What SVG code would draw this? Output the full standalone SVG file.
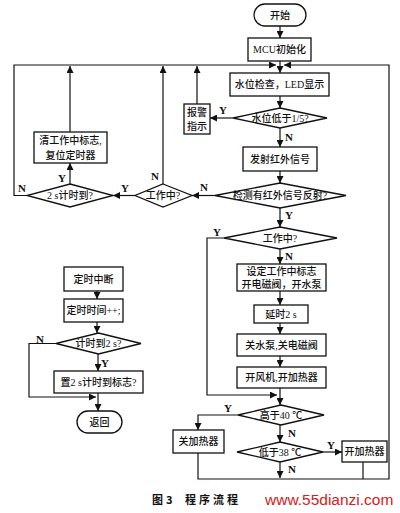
<svg xmlns="http://www.w3.org/2000/svg" width="400" height="513" viewBox="0 0 400 513">
<style>
.b{fill:#fff;stroke:#111;stroke-width:1.3}
.t{font-family:"Liberation Serif","Noto Sans CJK SC",serif;font-size:10px;font-weight:500;fill:#111;text-anchor:middle;dominant-baseline:central}
.l{font-family:"Liberation Serif","Noto Sans CJK SC",serif;font-size:11px;font-weight:bold;fill:#111;text-anchor:middle;dominant-baseline:central}
.c{fill:none;stroke:#111;stroke-width:1.2}
.a{marker-end:url(#ah)}
.cap{font-family:"Noto Sans CJK SC",sans-serif;font-size:11px;font-weight:bold;fill:#111}
</style>
<defs>
<marker id="ah" viewBox="0 0 10 10" refX="10" refY="5" markerWidth="7" markerHeight="7" markerUnits="userSpaceOnUse" orient="auto">
<path d="M0,0 L10,5 L0,10 z" fill="#111"/>
</marker>
</defs>
<rect width="400" height="513" fill="#fff"/>

<g id="connectors">
<path class="c a" d="M280,26 V38"/>
<path class="c a" d="M280,61 V73"/>
<path class="c a" d="M27,195.5 H14 V65 H276"/>
<path class="c a" d="M198,453 V479 H389 V65 H284"/>
<path class="c a" d="M70,184 V163"/>
<path class="c a" d="M70,132 V66"/>
<path class="c a" d="M163,184 V66"/>
<path class="c a" d="M197,104 V66"/>
<path class="c a" d="M280,96 V108"/>
<path class="c a" d="M233,118 H210"/>
<path class="c a" d="M280,128 V147"/>
<path class="c a" d="M280,171 V183"/>
<path class="c a" d="M215,195.5 H192"/>
<path class="c a" d="M135,195.5 H113"/>
<path class="c a" d="M280,208 V227"/>
<path class="c a" d="M224,238 H207 V395 H277"/>
<path class="c a" d="M280,249 V264"/>
<path class="c a" d="M280,291 V305"/>
<path class="c a" d="M280,323 V334"/>
<path class="c a" d="M280,356 V367"/>
<path class="c a" d="M280,388 V405"/>
<path class="c a" d="M238,415 H198 V430"/>
<path class="c a" d="M280,425 V442"/>
<path class="c a" d="M323,452 H342"/>
<path class="c a" d="M280,462 V478"/>
<path class="c" d="M363,462 V479"/>
<path class="c a" d="M97,291 V299"/>
<path class="c a" d="M97,322 V333"/>
<path class="c a" d="M98,354 V371"/>
<path class="c a" d="M56,343.5 H29 V397 H96"/>
<path class="c a" d="M98,393 V411"/>
</g>

<g id="labels">
<text class="l" x="223" y="110">Y</text>
<text class="l" x="289" y="137">N</text>
<text class="l" x="204" y="187">N</text>
<text class="l" x="125" y="188">Y</text>
<text class="l" x="155" y="176">N</text>
<text class="l" x="62" y="178">Y</text>
<text class="l" x="22" y="188">N</text>
<text class="l" x="289" y="215">Y</text>
<text class="l" x="217" y="232">Y</text>
<text class="l" x="289" y="256">N</text>
<text class="l" x="228" y="408">Y</text>
<text class="l" x="292" y="433">N</text>
<text class="l" x="331" y="445">Y</text>
<text class="l" x="292" y="469">N</text>
<text class="l" x="40" y="339">N</text>
<text class="l" x="105" y="363">Y</text>
</g>

<g id="start"><rect class="b" x="254" y="4" width="52" height="22" rx="11"/><text class="t" x="280" y="15">开始</text></g>
<g id="mcu"><rect class="b" x="248" y="38" width="63" height="23"/><text class="t" x="279.5" y="49.5">MCU初始化</text></g>
<g id="check"><rect class="b" x="230" y="73" width="99" height="23"/><text class="t" x="279.5" y="84.5">水位检查，LED显示</text></g>
<g id="low"><polygon class="b" points="280,108 327,118 280,128 233,118"/><text class="t" x="280" y="118">水位低于1/5?</text></g>
<g id="alarm"><rect class="b" x="184" y="104" width="26" height="30"/><text class="t" x="197" y="112">报警</text><text class="t" x="197" y="126">指示</text></g>
<g id="emit"><rect class="b" x="243" y="147" width="74" height="24"/><text class="t" x="280" y="159">发射红外信号</text></g>
<g id="detect"><polygon class="b" points="280,183 346,195.5 280,208 215,195.5"/><text class="t" x="280" y="195.5">检测有红外信号反射?</text></g>
<g id="working1"><polygon class="b" points="163,184 192,195.5 163,207 135,195.5"/><text class="t" x="163" y="195.5">工作中?</text></g>
<g id="timer2s"><polygon class="b" points="70,184 113,195.5 70,207 27,195.5"/><text class="t" x="70" y="195.5">2 s计时到?</text></g>
<g id="clear"><rect class="b" x="34" y="132" width="73" height="31"/><text class="t" x="70.5" y="140.5">清工作中标志,</text><text class="t" x="70.5" y="155">复位定时器</text></g>
<g id="working2"><polygon class="b" points="280,227 337,238 280,249 224,238"/><text class="t" x="280" y="238">工作中?</text></g>
<g id="setflag"><rect class="b" x="237" y="264" width="89" height="27"/><text class="t" x="281.5" y="271">设定工作中标志</text><text class="t" x="281.5" y="284">开电磁阀，开水泵</text></g>
<g id="delay"><rect class="b" x="254" y="305" width="54" height="18"/><text class="t" x="281" y="314">延时2 s</text></g>
<g id="pumpoff"><rect class="b" x="237" y="334" width="89" height="22"/><text class="t" x="281.5" y="345">关水泵,关电磁阀</text></g>
<g id="fanon"><rect class="b" x="237" y="367" width="89" height="21"/><text class="t" x="281.5" y="377.5">开风机,开加热器</text></g>
<g id="above40"><polygon class="b" points="281,405 324,415 281,425 238,415"/><text class="t" x="281" y="415">高于40 ℃</text></g>
<g id="heatoff"><rect class="b" x="173" y="430" width="51" height="23"/><text class="t" x="198.5" y="441.5">关加热器</text></g>
<g id="below38"><polygon class="b" points="280,442 323,452 280,462 237,452"/><text class="t" x="280" y="452">低于38 ℃</text></g>
<g id="heaton"><rect class="b" x="342" y="441" width="45" height="21"/><text class="t" x="364.5" y="451.5">开加热器</text></g>

<g id="irq"><rect class="b" x="64" y="267" width="59" height="24"/><text class="t" x="93.5" y="279">定时中断</text></g>
<g id="inc"><rect class="b" x="64" y="299" width="59" height="23"/><text class="t" x="93.5" y="310.5">定时时间++;</text></g>
<g id="reach2s"><polygon class="b" points="98.5,333 141,343.5 98.5,354 56,343.5"/><text class="t" x="98.5" y="343.5">计时到2 s?</text></g>
<g id="setflag2"><rect class="b" x="54" y="371" width="89" height="22"/><text class="t" x="98.5" y="382">置2 s计时到标志?</text></g>
<g id="return"><rect class="b" x="77" y="411" width="45" height="22" rx="11"/><text class="t" x="99.5" y="422">返回</text></g>

<text class="cap" x="152" y="504">图</text>
<text class="cap" x="166" y="504">3</text>
<text class="cap" x="185" y="504" style="letter-spacing:3px">程序流程</text>
<text x="265" y="505" style="font-family:'Liberation Sans',sans-serif;font-size:15.5px;fill:#d42020">www.55dianzi.com</text>
</svg>
